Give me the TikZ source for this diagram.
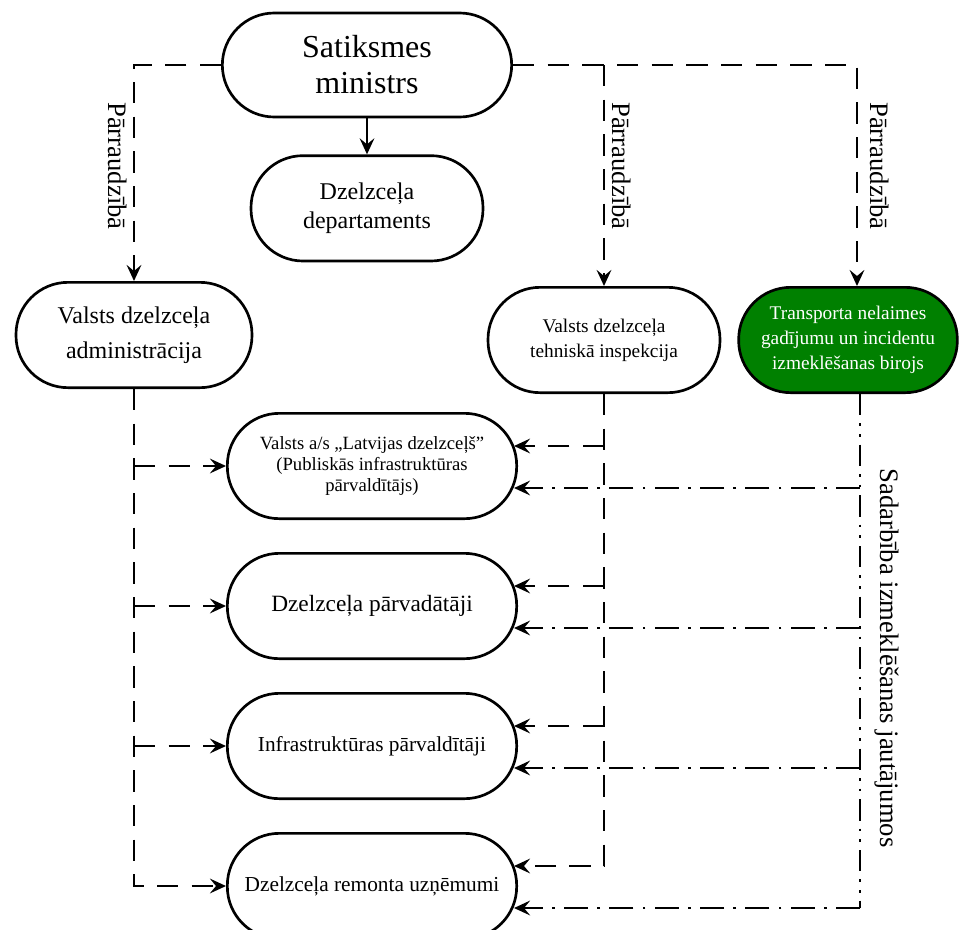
\documentclass[tikz,border=0pt]{standalone}
\usepackage{fontspec}
\setmainfont{Liberation Serif}
\usetikzlibrary{arrows.meta}
\usetikzlibrary{positioning}
\usetikzlibrary{calc}

\definecolor{tgreen}{RGB}{0,128,0}

\tikzset{
  blok/.style={draw, line width=2pt, rounded corners=39pt, align=center,
               minimum height=79pt, inner sep=2pt},
  tip/.style={-{Stealth[length=12pt,width=11pt,inset=4.5pt]}},
  uzr/.style={tip, line width=1.9pt, dash pattern=on 16pt off 10pt},
  sad/.style={tip, line width=1.9pt, dash pattern=on 18pt off 7pt on 2pt off 7pt},
  sadv/.style={line width=1.9pt, dash pattern=on 16pt off 6pt on 2pt off 6pt on 2pt off 6pt},
  lbl/.style={rotate=-90, font=\fontsize{20}{24}\selectfont, inner sep=0pt}
}

\begin{document}
\begin{tikzpicture}[x=0.75pt,y=-0.75pt]

                    \useasboundingbox (0,0) rectangle (960,929);

                    \node[blok, minimum width=217pt, minimum height=78pt, font=\fontsize{24}{27}\selectfont] (min) at (367,65) {Satiksmes\\ministrs};
                    \node[blok, minimum width=174pt, font=\fontsize{18}{21.75}\selectfont] (dep) [below = 27pt of min] {Dzelzceļa\\departaments};

                    \node[blok, minimum width=177pt, font=\fontsize{18}{26}\selectfont] (adm) at (134,335) {Valsts dzelzceļa\\administrācija};
                    \node[blok, minimum width=174pt, font=\fontsize{14.5}{18.75}\selectfont] (vdti) at (604,340) {Valsts dzelzceļa\\tehniskā inspekcija};
                    \node[blok, minimum width=164pt, fill=tgreen, text=white, font=\fontsize{14.5}{18.5}\selectfont] (tai) at (848,340) {Transporta nelaimes\\gadījumu un incidentu\\izmeklēšanas birojs};

                    \node[blok, minimum width=217pt, font=\fontsize{14}{15.75}\selectfont] (ldz) at (372,466) {Valsts a/s „Latvijas dzelzceļš”\\(Publiskās infrastruktūras\\pārvaldītājs)};
                    \node[blok, minimum width=217pt, font=\fontsize{17.5}{20}\selectfont] (parv) [below = 24pt of ldz] {Dzelzceļa pārvadātāji};
                    \node[blok, minimum width=217pt, font=\fontsize{16}{19}\selectfont] (infra) [below = 24pt of parv] {Infrastruktūras pārvaldītāji};
                    \node[blok, minimum width=217pt, font=\fontsize{16}{19}\selectfont] (rem) [below = 24pt of infra] {Dzelzceļa remonta uzņēmumi};

                    \foreach \n in {ldz,parv,infra,rem} {
                      \coordinate (e_\n) at ($(\n.east)+(-4,-20)$);
                      \coordinate (f_\n) at ($(\n.east)+(-4,22)$);
                    }
                    \coordinate (b_1) at (min.east -| vdti.north);
                    \coordinate (t_n) at ($(tai.north)+(9,0)$);
                    \coordinate (t_0) at ($(tai.south)+(12,0)$);
                    \coordinate (t_1) at (t_0 |- f_rem);

                    % parraudziba
                    \draw[tip, line width=1.9pt] (min) -- (dep);
                    \draw[uzr] (min.west) -| (adm.north);
                    \draw[uzr] (min.east) -| (t_n);
                    \draw[uzr] (b_1) -- (vdti.north);

                    % administracija un inspekcija
                    \draw[uzr] (adm.south) |- (rem.west);
                    \foreach \n in {ldz,parv,infra}
                      \draw[uzr] (adm.south |- \n.west) -- (\n.west);
                    \draw[uzr] (vdti.south) |- (e_rem);
                    \foreach \n in {ldz,parv,infra}
                      \draw[uzr] (vdti.south |- e_\n) -- (e_\n);

                    % sadarbiba
                    \draw[sadv] (t_0) -- (t_1);
                    \foreach \n in {ldz,parv,infra,rem}
                      \draw[sad] (t_0 |- f_\n) -- (f_\n);

                    \node[lbl] (l_1) at (118,166) {Pārraudzībā};
                    \node[lbl] (l_2) at (622,166) {Pārraudzībā};
                    \node[lbl] (l_3) at (880,166) {Pārraudzībā};
                    \node[lbl] (l_4) at (887,658) {Sadarbība izmeklēšanas jautājumos};

                \end{tikzpicture}
\end{document}
